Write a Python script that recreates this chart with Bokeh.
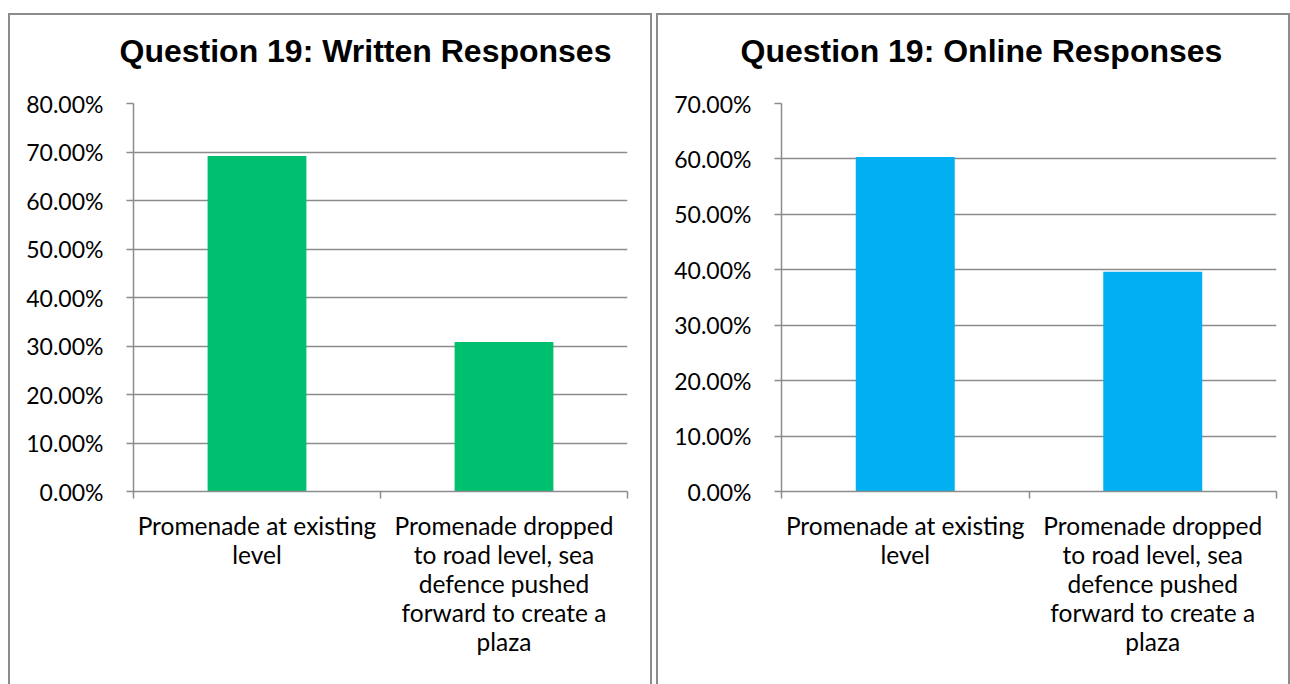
from bokeh.plotting import figure
from bokeh.models import FixedTicker, NumeralTickFormatter, Range1d, ColumnDataSource, Title
from bokeh.layouts import row
from bokeh.embed import file_html
from bokeh.resources import INLINE

# ---- data ----
categories = [
    "Promenade at existing level",
    "Promenade dropped to road level, sea defence pushed forward to create a plaza",
]
category_labels = [
    "Promenade at existing\nlevel",
    "Promenade dropped\nto road level, sea\ndefence pushed\nforward to create a\nplaza",
]
written = [0.692, 0.308]
online = [0.6036, 0.3964]
written_ticks = [0.0, 0.1, 0.2, 0.3, 0.4, 0.5, 0.6, 0.7, 0.8]
online_ticks = [0.0, 0.1, 0.2, 0.3, 0.4, 0.5, 0.6, 0.7]

GRAY = "#8c8c8c"


def make_chart(title, values, yticks, color, width, border_right, title_offset, left_margin):
    n = len(categories)
    src = ColumnDataSource(dict(
        x=[i + 0.5 for i in range(n)],
        top=values,
        cat=categories,
    ))
    p = figure(
        width=width, height=671,
        x_range=Range1d(0, n), y_range=Range1d(yticks[0], yticks[-1]),
        output_backend="svg", toolbar_location=None,
        min_border_left=123, min_border_right=border_right,
        min_border_top=88, min_border_bottom=195,
        title=title,
    )
    p.margin = (13, 0, 0, left_margin)
    p.styles = {"border": "2px solid #8c8c8c", "border-bottom": "none"}
    p.outline_line_color = None
    p.background_fill_color = "white"
    p.border_fill_color = "white"

    p.title.text_font = "Liberation Sans"
    p.title.text_font_style = "bold"
    p.title.text_font_size = "32px"
    p.title.text_color = "black"
    p.title.align = "left"
    p.title.offset = title_offset
    p.title.standoff = 0
    # blank spacer between the title and the plot area
    p.add_layout(Title(text=" ", text_font_size="1px", standoff=32), "above")

    p.vbar(x="x", top="top", width=0.4, source=src, fill_color=color, line_color=None)

    # y axis
    ya = p.yaxis[0]
    ya.ticker = FixedTicker(ticks=yticks)
    ya.formatter = NumeralTickFormatter(format="0.00%")
    ya.axis_line_color = GRAY
    ya.axis_line_width = 1.5
    ya.major_tick_line_color = GRAY
    ya.major_tick_line_width = 1.5
    ya.major_tick_out = 7
    ya.major_tick_in = 0
    ya.minor_tick_line_color = None
    ya.major_label_standoff = 23
    ya.major_label_text_font = "Lato"
    ya.major_label_text_font_size = "23px"
    ya.major_label_text_color = "black"

    # x axis (ticks at category boundaries, labels at centres)
    xa = p.xaxis[0]
    xa.ticker = FixedTicker(ticks=[i + 0.5 for i in range(n)], minor_ticks=list(range(n + 1)))
    xa.major_label_overrides = {i + 0.5: lab for i, lab in enumerate(category_labels)}
    xa.axis_line_color = GRAY
    xa.axis_line_width = 1.5
    xa.major_tick_line_color = None
    xa.major_tick_out = 0
    xa.major_tick_in = 0
    xa.minor_tick_line_color = GRAY
    xa.minor_tick_line_width = 1.5
    xa.minor_tick_out = 7
    xa.minor_tick_in = 0
    xa.major_label_standoff = 12
    xa.major_label_text_font = "Lato"
    xa.major_label_text_font_size = "24.5px"
    xa.major_label_text_color = "black"
    xa.major_label_text_line_height = 1.0

    p.xgrid.visible = False
    p.ygrid.grid_line_color = GRAY
    p.ygrid.grid_line_width = 1.5
    return p


p1 = make_chart("Question 19: Written Responses", written, written_ticks, "#00BF6F",
                644, 27, -14, 8)
p2 = make_chart("Question 19: Online Responses", online, online_ticks, "#00B0F0",
                634, 16, -41, 4)

layout = row(p1, p2)
open("out.html", "w").write(file_html(layout, INLINE))
